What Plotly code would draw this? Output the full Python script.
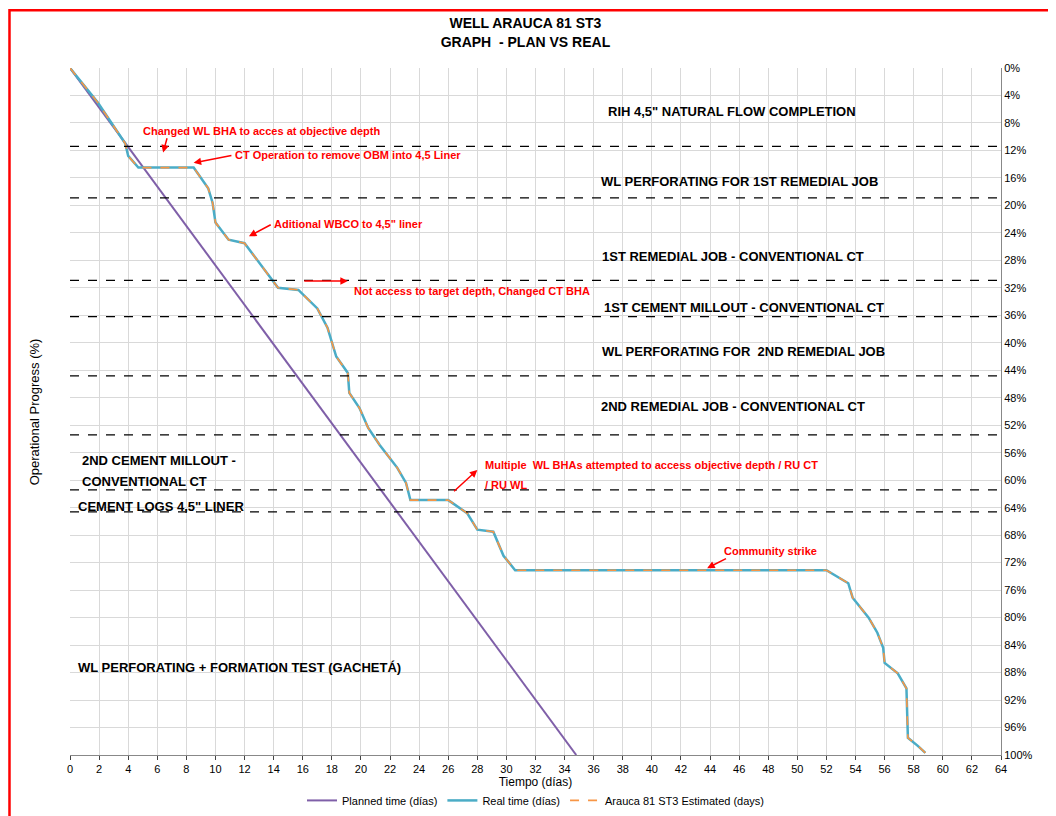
import plotly.graph_objects as go

planned_days = [0, 34.8]
planned_pct = [0, 100]

real_days = [0, 1.9, 3.8, 4.0, 4.7, 8.5, 9.5, 9.8, 10.0, 10.9, 12.0, 14.3, 15.7, 17.0, 17.7, 18.3,
             19.1, 19.2, 19.9, 20.5, 21.3, 22.5, 23.1, 23.4, 26.0, 27.3, 28.0, 29.1, 29.8, 30.6,
             52.0, 53.5, 53.8, 54.9, 55.5, 55.9, 56.0, 56.9, 57.5, 57.6, 58.3, 58.8]
real_pct = [0, 5, 11, 12.8, 14.5, 14.5, 17.5, 19.6, 22.5, 25, 25.5, 32, 32.3, 35, 37.8, 42,
            44.4, 47.3, 49.5, 52.4, 54.9, 58.2, 60.4, 62.9, 62.9, 64.8, 67.2, 67.5, 71, 73.1,
            73.1, 75, 77.1, 80, 82.2, 84.4, 86.6, 88.1, 90.3, 97.5, 98.7, 99.7]

phase_lines = [11.4, 18.9, 30.9, 36.2, 44.8, 53.4, 61.4, 64.6]

phase_labels = [
    (45.5, 6.3, 'center', 'RIH 4,5" NATURAL FLOW COMPLETION'),
    (46.0, 16.5, 'center', 'WL PERFORATING FOR 1ST REMEDIAL JOB'),
    (45.6, 27.4, 'center', '1ST REMEDIAL JOB - CONVENTIONAL CT'),
    (46.3, 34.8, 'center', '1ST CEMENT MILLOUT - CONVENTIONAL CT'),
    (46.3, 41.2, 'center', 'WL PERFORATING FOR  2ND REMEDIAL JOB'),
    (45.6, 49.3, 'center', '2ND REMEDIAL JOB - CONVENTIONAL CT'),
    (0.7, 57.2, 'left', '2ND CEMENT MILLOUT -'),
    (0.7, 60.2, 'left', 'CONVENTIONAL CT'),
    (0.4, 63.8, 'left', 'CEMENT LOGS 4,5" LINER'),
    (0.4, 87.3, 'left', 'WL PERFORATING + FORMATION TEST (GACHETÁ)'),
]

# (text x, text y, arrow tail x, tail y, head x, head y, text)
notes = [
    (4.9, 9.2, 6.7, 10.0, 6.4, 12.3, 'Changed WL BHA to acces at objective depth'),
    (11.2, 12.7, 11.2, 12.7, 8.5, 13.8, 'CT Operation to remove OBM into 4,5 Liner'),
    (13.9, 22.7, 13.9, 22.7, 12.3, 24.5, 'Aditional WBCO to 4,5" liner'),
    (19.4, 32.5, 16.0, 31.0, 19.1, 31.0, 'Not access to target depth, Changed CT BHA'),
    (28.4, 57.8, 26.3, 61.8, 28.0, 58.5, 'Multiple  WL BHAs attempted to access objective depth / RU CT'),
    (28.4, 60.7, None, None, None, None, '/ RU WL'),
    (44.8, 70.3, 45.2, 71.3, 43.8, 72.8, 'Community strike'),
]

font = "Liberation Sans Narrow, Arial Narrow, sans-serif"

fig = go.Figure()
fig.add_trace(go.Scatter(x=planned_days, y=planned_pct, mode='lines', name='Planned time (días)',
                         line=dict(color='#7F5FA8', width=2)))
fig.add_trace(go.Scatter(x=real_days, y=real_pct, mode='lines', name='Real time (días)',
                         line=dict(color='#4BACC6', width=2.5)))
fig.add_trace(go.Scatter(x=real_days, y=real_pct, mode='lines', name='Arauca 81 ST3 Estimated (days)',
                         line=dict(color='#F79646', width=1.6, dash='dash')))

for y in phase_lines:
    fig.add_shape(type='line', x0=0, x1=64, y0=y, y1=y, xref='x', yref='y',
                  line=dict(color='black', width=1.3, dash='dash'))

for x, y, al, t in phase_labels:
    fig.add_annotation(x=x, y=y, text='<b>' + t + '</b>', showarrow=False, xanchor=al,
                       font=dict(size=13, color='black', family=font))

for tx, ty, x0, y0, x1, y1, t in notes:
    fig.add_annotation(x=tx, y=ty, text='<b>' + t + '</b>', showarrow=False, xanchor='left',
                       font=dict(size=11, color='red', family=font))
    if x0 is not None:
        fig.add_annotation(x=x1, y=y1, ax=x0, ay=y0, axref='x', ayref='y', text='',
                           showarrow=True, arrowhead=2, arrowsize=1, arrowwidth=1.5, arrowcolor='red')

fig.add_shape(type='rect', xref='paper', yref='paper', x0=-0.065, x1=1.065, y0=-0.097, y1=1.084,
              line=dict(color='red', width=2.5))

fig.update_layout(
    width=1056, height=816,
    paper_bgcolor='white', plot_bgcolor='white',
    margin=dict(l=62, r=63, t=60, b=69, autoexpand=False),
    title=dict(text='<b>WELL ARAUCA 81 ST3<br>GRAPH  - PLAN VS REAL</b>', x=0.49, y=0.975,
               xanchor='center', font=dict(size=14, color='black', family=font)),
    font=dict(family=font, size=11, color='black'),
    legend=dict(orientation='h', x=0.5, xanchor='center', y=-0.045, yanchor='top',
                font=dict(size=11)),
    showlegend=True,
)
fig.update_xaxes(range=[0, 64], dtick=2, showgrid=True, gridcolor='#D9D9D9', linecolor='#888',
                 ticks='outside', ticklen=4, automargin=False,
                 title=dict(text='Tiempo (días)', standoff=2, font=dict(size=12)),
                 tickfont=dict(size=11), zeroline=False)
fig.update_yaxes(range=[100, 0], dtick=4, side='right', showgrid=True, gridcolor='#D9D9D9',
                 ticksuffix='%', linecolor='#888', tickfont=dict(size=11), zeroline=False,
                 automargin=False)
fig.add_annotation(x=-0.048, y=0.5, xref='paper', yref='paper', text='Operational Progress (%)',
                   textangle=-90, showarrow=False, font=dict(size=13, family=font))

fig.write_html("out.html")
